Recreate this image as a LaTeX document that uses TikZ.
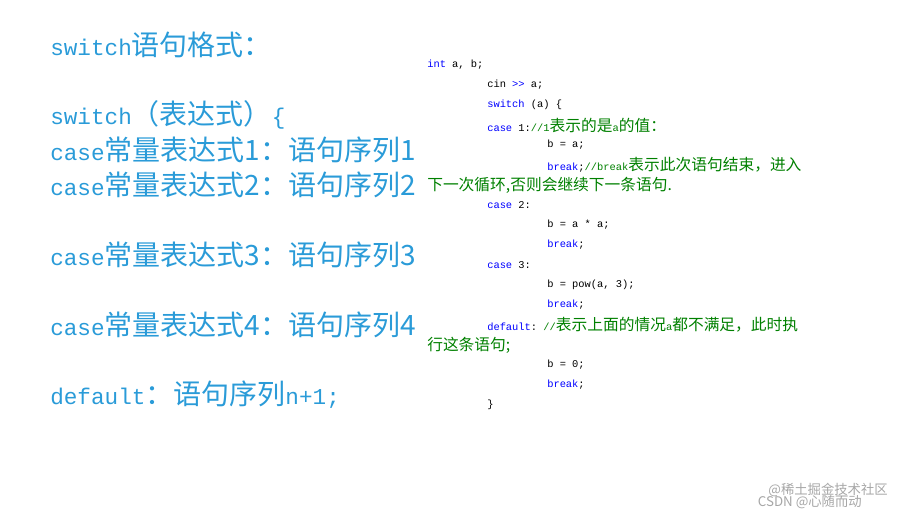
\documentclass[tikz,border=0pt]{standalone}
\usepackage{fontspec}
\setmonofont{Liberation Mono}
\newfontfamily\cjk{Noto Sans CJK SC}
\definecolor{titleblue}{HTML}{2A9BD8}
\definecolor{kwblue}{HTML}{0000FF}
\definecolor{cmgreen}{HTML}{008000}
\newcommand{\cj}[1]{{\cjk\fontsize{21}{21}\selectfont #1}}
\newcommand{\cc}[1]{{\cjk\fontsize{11.8}{11.8}\selectfont #1}}
\newcommand{\kw}[1]{{\color{kwblue}#1}}
\newcommand{\cm}[1]{{\color{cmgreen}#1}}
\begin{document}
\begin{tikzpicture}[x=0.75pt,y=-0.75pt,
    big/.style={anchor=west,inner sep=0pt,text=titleblue,font=\ttfamily\fontsize{17}{17}\selectfont},
    code/.style={anchor=west,inner sep=0pt,font=\ttfamily\fontsize{7.8}{7.8}\selectfont},
    wmark/.style={anchor=east,inner sep=0pt,text=black!35,font=\cjk\fontsize{10}{10}\selectfont}]
        \useasboundingbox (0,0) rectangle (904,517);
        % left column
        \node[big] (title) at (50, 45) {switch\cj{语句格式：}};
        \node[big] (head) at (50, 115) {switch\cj{（表达式）}\{};
        \node[big] (c1) at (50, 150) {case\cj{常量表达式1：语句序列1}};
        \node[big] (c2) at (50, 185) {case\cj{常量表达式2：语句序列2}};
        \node[big] (c3) at (50, 255) {case\cj{常量表达式3：语句序列3}};
        \node[big] (c4) at (50, 325) {case\cj{常量表达式4：语句序列4}};
        \node[big] (dflt) at (50, 395) {default\cj{：语句序列}n+1;};
        % code column
        \node[code] (l1) at (427, 65) {\kw{int} a, b;};
        \node[code] (l2) at (487, 85) {cin \kw{>>} a;};
        \node[code] (l3) at (487, 105) {\kw{switch} (a) \{};
        \node[code] (l4) at (487, 125) {\kw{case} 1:\cm{//1\cc{表示的是}a\cc{的值：}}};
        \node[code] (l5) at (547, 145) {b = a;};
        \node[code] (l6) at (547, 165) {\kw{break};\cm{//break\cc{表示此次语句结束，进入}}};
        \node[code] (l7) at (427, 185) {\cm{\cc{下一次循环,否则会继续下一条语句.}}};
        \node[code] (l8) at (487, 205) {\kw{case} 2:};
        \node[code] (l9) at (547, 225) {b = a * a;};
        \node[code] (l10) at (547, 245) {\kw{break};};
        \node[code] (l11) at (487, 265) {\kw{case} 3:};
        \node[code] (l12) at (547, 285) {b = pow(a, 3);};
        \node[code] (l13) at (547, 305) {\kw{break};};
        \node[code] (l14) at (487, 325) {\kw{default}:  \cm{//\cc{表示上面的情况}a\cc{都不满足，此时执}}};
        \node[code] (l15) at (427, 345) {\cm{\cc{行这条语句;}}};
        \node[code] (l16) at (547, 365) {b = 0;};
        \node[code] (l17) at (547, 385) {\kw{break};};
        \node[code] (l18) at (487, 405) {\}};
        % watermarks
        \node[wmark] (wm1) at (888, 490) {@稀土掘金技术社区};
        \node[wmark] (wm2) at (862, 502) {CSDN @心随而动};
\end{tikzpicture}
\end{document}
